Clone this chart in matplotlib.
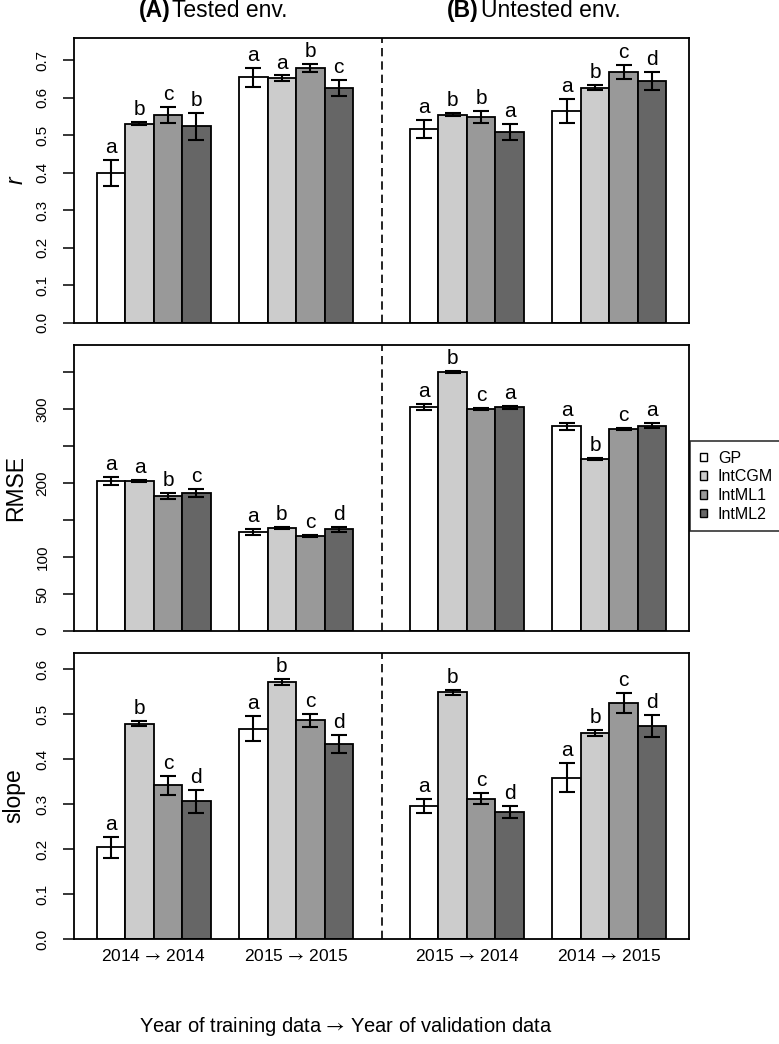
import matplotlib
matplotlib.use('Agg')
import matplotlib.pyplot as plt
from matplotlib.patches import Patch
import numpy as np

plt.rcParams['font.family'] = ['Liberation Sans', 'DejaVu Sans']
plt.rcParams['mathtext.fontset'] = 'stixsans'

# ---------------- data ----------------
methods = ['GP', 'IntCGM', 'IntML1', 'IntML2']
colors = ['#ffffff', '#cccccc', '#999999', '#666666']
scenarios = ['2014$\\,\\rightarrow\\,$2014', '2015$\\,\\rightarrow\\,$2015',
             '2015$\\,\\rightarrow\\,$2014', '2014$\\,\\rightarrow\\,$2015']

r_mean = [[0.399, 0.530, 0.553, 0.523],
          [0.654, 0.652, 0.678, 0.625],
          [0.516, 0.554, 0.549, 0.509],
          [0.565, 0.626, 0.669, 0.645]]
r_err = [[0.035, 0.004, 0.021, 0.035],
         [0.026, 0.007, 0.011, 0.022],
         [0.024, 0.004, 0.016, 0.021],
         [0.032, 0.007, 0.019, 0.024]]
r_letters = [['a', 'b', 'c', 'b'], ['a', 'a', 'b', 'c'],
             ['a', 'b', 'b', 'a'], ['a', 'b', 'c', 'd']]

rmse_mean = [[202.7, 203.2, 182.9, 186.9],
             [133.8, 138.8, 128.4, 137.8],
             [302.7, 350.0, 299.6, 302.3],
             [276.6, 232.4, 272.5, 277.5]]
rmse_err = [[5.4, 1.2, 3.9, 5.2],
            [4.5, 1.2, 1.2, 3.4],
            [3.6, 1.0, 1.3, 2.0],
            [5.0, 0.8, 1.3, 3.6]]
rmse_letters = [['a', 'a', 'b', 'c'], ['a', 'b', 'c', 'd'],
                ['a', 'b', 'c', 'a'], ['a', 'b', 'c', 'a']]

slope_mean = [[0.204, 0.479, 0.342, 0.306],
              [0.468, 0.571, 0.486, 0.434],
              [0.296, 0.549, 0.312, 0.283],
              [0.359, 0.459, 0.525, 0.474]]
slope_err = [[0.023, 0.005, 0.021, 0.026],
             [0.027, 0.0065, 0.0145, 0.020],
             [0.016, 0.0055, 0.012, 0.0135],
             [0.032, 0.0067, 0.022, 0.0245]]
slope_letters = [['a', 'b', 'c', 'd'], ['a', 'b', 'c', 'd'],
                 ['a', 'b', 'c', 'd'], ['a', 'b', 'c', 'd']]

r_ticks = [0.0, 0.1, 0.2, 0.3, 0.4, 0.5, 0.6, 0.7]
r_ticklabels = ['0.0', '0.1', '0.2', '0.3', '0.4', '0.5', '0.6', '0.7']
rmse_ticks = [0, 50, 100, 150, 200, 250, 300, 350]
rmse_ticklabels = ['0', '50', '100', '', '200', '', '300', '']
slope_ticks = [0.0, 0.1, 0.2, 0.3, 0.4, 0.5, 0.6]
slope_ticklabels = ['0.0', '0.1', '0.2', '0.3', '0.4', '0.5', '0.6']

# ---------------- layout ----------------
W, H = 779, 1044
fig = plt.figure(figsize=(W / 100, H / 100), dpi=100)

def fx(px):
    return px / W

def fy(py):
    return 1 - py / H

left_px, right_px = 74, 689
panels_px = [(38.3, 322.7), (345, 631), (653, 939)]
group_starts = [0, 5, 11, 16]

panel_specs = [
    (r_mean, r_err, r_letters, (0, 0.758), r_ticks, r_ticklabels),
    (rmse_mean, rmse_err, rmse_letters, (0, 386.5), rmse_ticks, rmse_ticklabels),
    (slope_mean, slope_err, slope_letters, (0, 0.636), slope_ticks, slope_ticklabels),
]

axes = []
for i, ((top, bot), spec) in enumerate(zip(panels_px, panel_specs)):
    means, errs, letters, ylim, ticks, ticklabels = spec
    ax = fig.add_axes([fx(left_px), fy(bot), fx(right_px - left_px), (bot - top) / H])
    axes.append(ax)
    for g, gs in enumerate(group_starts):
        xs = [gs + j + 0.5 for j in range(4)]
        for j in range(4):
            ax.bar(xs[j], means[g][j], width=1.0, color=colors[j],
                   edgecolor='black', linewidth=1.3, zorder=2)
            ax.errorbar(xs[j], means[g][j], yerr=errs[g][j], fmt='none',
                        ecolor='black', elinewidth=1.5, capsize=6, capthick=1.5,
                        zorder=3)
            ax.annotate(letters[g][j], (xs[j], means[g][j] + errs[g][j]),
                        xytext=(0, 5), textcoords='offset points',
                        ha='center', va='baseline', fontsize=15, zorder=4,
                        annotation_clip=False)
    ax.axvline(10, color='black', linewidth=1.2, linestyle=(0, (5, 3)), zorder=1)
    ax.set_xlim(-0.8, 20.8)
    ax.set_ylim(*ylim)
    ax.set_yticks(ticks)
    ax.set_yticklabels(ticklabels)
    ax.tick_params(axis='y', length=7.7, width=1.1, pad=10, labelsize=11,
                   labelrotation=90, direction='out')
    for lab in ax.get_yticklabels():
        lab.set_va('center')
    for sp in ax.spines.values():
        sp.set_linewidth(1.3)
        sp.set_color('black')
    if i < 2:
        ax.set_xticks([])
    else:
        ax.set_xticks([gs + 2 for gs in group_starts])
        ax.set_xticklabels(scenarios)
        ax.tick_params(axis='x', length=0, pad=6.5, labelsize=12.5)

# y labels
fig.text(fx(16), fy((panels_px[0][0] + panels_px[0][1]) / 2), 'r', rotation=90,
         ha='center', va='center', fontsize=16.5, style='italic')
fig.text(fx(16), fy((panels_px[1][0] + panels_px[1][1]) / 2), 'RMSE', rotation=90,
         ha='center', va='center', fontsize=16.5)
fig.text(fx(14), fy((panels_px[2][0] + panels_px[2][1]) / 2), 'slope', rotation=90,
         ha='center', va='center', fontsize=16.5)

# titles
fig.text(fx(170.5), fy(17), '(A)', ha='right', va='baseline', fontsize=16.5,
         fontweight='bold')
fig.text(fx(172.5), fy(17), 'Tested env.', ha='left', va='baseline', fontsize=16.5)
fig.text(fx(478.5), fy(17), '(B)', ha='right', va='baseline', fontsize=16.5,
         fontweight='bold')
fig.text(fx(481), fy(17), 'Untested env.', ha='left', va='baseline', fontsize=16.5)

# x label
fig.text(fx(346), fy(1027), 'Year of training data$\\,\\rightarrow\\,$Year of validation data',
         ha='center', va='center', fontsize=14.5)

# legend
handles = [Patch(facecolor=c, edgecolor='black', linewidth=1.0) for c in colors]
leg = fig.legend(handles, methods, loc='upper left',
                 bbox_to_anchor=(fx(690), fy(441)), frameon=True, fancybox=False,
                 edgecolor='black', fontsize=11.5, handlelength=0.45,
                 handleheight=0.45, handletextpad=0.7, labelspacing=0.23,
                 borderpad=0.6, borderaxespad=0)
leg.get_frame().set_linewidth(1.2)

fig.savefig('out.png', dpi=100)
